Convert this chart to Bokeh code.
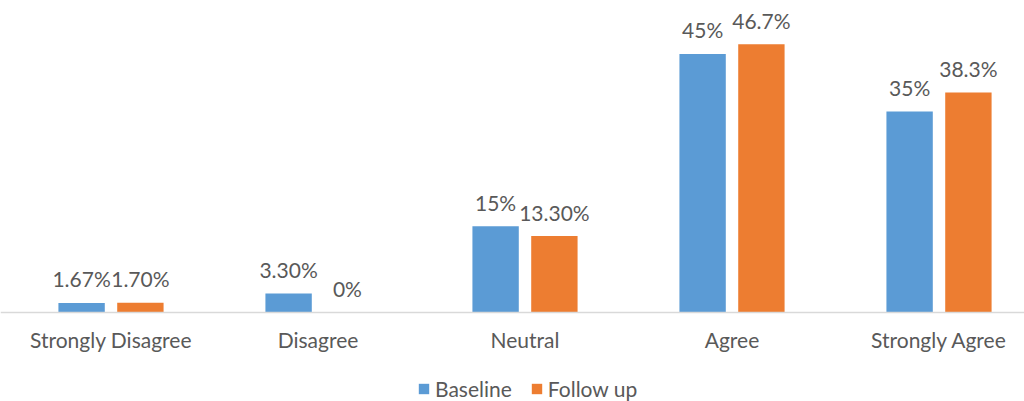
from bokeh.plotting import figure
from bokeh.models import ColumnDataSource, FixedTicker, Legend, LegendItem
from bokeh.core.properties import value
from bokeh.embed import file_html
from bokeh.resources import INLINE

categories = ["Strongly Disagree", "Disagree", "Neutral", "Agree", "Strongly Agree"]
baseline = [1.67, 3.3, 15, 45, 35]
follow_up = [1.7, 0, 13.3, 46.7, 38.3]
baseline_labels = ["1.67%", "3.30%", "15%", "45%", "35%"]
follow_up_labels = ["1.70%", "0%", "13.30%", "46.7%", "38.3%"]

BLUE = "#5B9BD5"
ORANGE = "#ED7D31"
TEXT = "#595959"
FONT = "Lato"
FONT_SIZE = "21px"

idx = list(range(len(categories)))
offset = 0.142
bar_w = 0.224

src_b = ColumnDataSource(dict(x=[i - offset for i in idx], top=baseline, label=baseline_labels))
src_f = ColumnDataSource(dict(x=[i + offset for i in idx], top=follow_up, label=follow_up_labels))

# plot area spans the whole canvas; the category axis sits at y = 0 inside it
p = figure(width=1024, height=401, output_backend="svg", toolbar_location=None,
           x_range=(-0.5338, 4.413), y_range=(-15.49, 54.31),
           min_border_left=0, min_border_right=0, min_border_top=0, min_border_bottom=0)
p.outline_line_color = None
p.grid.visible = False
p.yaxis.visible = False
p.background_fill_color = "white"
p.border_fill_color = "white"

rb = p.vbar(x="x", top="top", width=bar_w, source=src_b, fill_color=BLUE, line_color=None)
rf = p.vbar(x="x", top="top", width=bar_w, source=src_f, fill_color=ORANGE, line_color=None)

for src in (src_b, src_f):
    p.text(x="x", y="top", text="label", source=src, text_align="center",
           text_baseline="middle", y_offset=-24, text_color=TEXT,
           text_font=value(FONT), text_font_size=FONT_SIZE)

ax = p.xaxis[0]
ax.fixed_location = 0
ax.ticker = FixedTicker(ticks=idx)
ax.major_label_overrides = {i: c for i, c in zip(idx, categories)}
ax.axis_line_color = "#D9D9D9"
ax.axis_line_width = 1.5
ax.major_tick_line_color = None
ax.minor_tick_line_color = None
ax.major_label_standoff = 8
ax.major_label_text_color = TEXT
ax.major_label_text_font = FONT
ax.major_label_text_font_size = FONT_SIZE

legend = Legend(items=[LegendItem(label="Baseline", renderers=[rb]),
                       LegendItem(label="Follow up", renderers=[rf])],
                orientation="horizontal", location=(417, 0),
                glyph_width=13, glyph_height=13, label_standoff=5, spacing=18,
                padding=0, margin=0, border_line_color=None, background_fill_alpha=0,
                label_text_color=TEXT, label_text_font=FONT, label_text_font_size=FONT_SIZE)
p.add_layout(legend, "center")

open("out.html", "w").write(file_html(p, INLINE))
